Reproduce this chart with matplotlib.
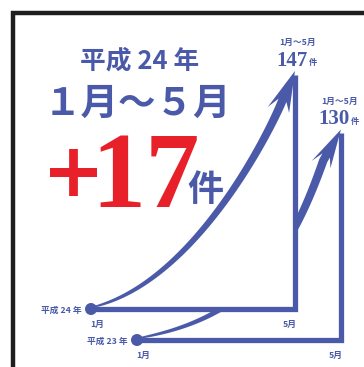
import numpy as np
import matplotlib.pyplot as plt
from matplotlib.patches import Polygon, Circle

plt.rcParams['font.family'] = ['Noto Sans CJK JP', 'DejaVu Sans']

# ----------- DATA -----------
years = ['平成 24 年', '平成 23 年']
totals = [147, 130]
months = ['1月', '5月']
period = '1月～5月'
period_big = '１月～５月'
unit = '件'

BLUE = '#4a5aa8'
RED = '#e8202a'

# layout of the two "step" graphics (pixel space)
base_y = [309, 340]
x_start = [91, 137]
x_end = [295, 341]
scale = 1.62      # px per case
head_dir = [(17, -40), (21, -37)]
ctrl = [[(185, 285), (257, 158)], [(250, 318), (290, 255)]]


def bezier(p0, p1, p2, p3, n=120):
    t = np.linspace(0, 1, n)[:, None]
    pts = ((1 - t) ** 3) * p0 + 3 * ((1 - t) ** 2) * t * p1 + 3 * (1 - t) * t ** 2 * p2 + t ** 3 * p3
    return pts, t[:, 0]


def arrow_shape(p0, p1, p2, tip, d, head_len, head_w, w0, w1):
    d = np.array(d, float)
    d = d / np.hypot(*d)
    tip = np.array(tip, float)
    p3 = tip - head_len * d
    pts, t = bezier(np.array(p0, float), np.array(p1, float), np.array(p2, float), p3)
    tang = np.gradient(pts, axis=0)
    tang /= np.hypot(tang[:, 0], tang[:, 1])[:, None]
    nrm = np.column_stack([-tang[:, 1], tang[:, 0]])
    w = w0 + (w1 - w0) * t ** 0.5
    left = pts + nrm * w[:, None] / 2
    right = pts - nrm * w[:, None] / 2
    n = np.array([-d[1], d[0]])
    head = [p3 + n * head_w - d * 3, tip, p3 - n * head_w - d * 6,
            p3 - n * w1 / 2 + d * 6, p3 + n * w1 / 2 + d * 6]
    poly = np.vstack([left, [head[4], head[0], head[1], head[2], head[3]], right[::-1]])
    return poly, pts


fig = plt.figure(figsize=(3.64, 3.67), dpi=100)
ax = fig.add_axes([0, 0, 1, 1])
ax.set_xlim(0, 364)
ax.set_ylim(367, 0)
ax.axis('off')

# frame
ax.plot([13, 13, 370], [370, 12.5, 12.5], color='#1e1e1e', lw=3.2, solid_joinstyle='miter', zorder=1)

tops = [by - tot * scale for by, tot in zip(base_y, totals)]

# draw older year first so the newer one covers it
for i in [1, 0]:
    z = 10 if i == 1 else 20
    p0 = (x_start[i] + 2, base_y[i] - 2)
    tip = (x_end[i], tops[i])
    poly, pts = arrow_shape(p0, ctrl[i][0], ctrl[i][1], tip, head_dir[i],
                            38 if i == 0 else 36, 11 if i == 0 else 10, 1.0, 8.5)
    if i == 0:
        # white area under the newer curve hides the older one
        fill = np.vstack([pts, [(x_end[i], tops[i] + 30), (x_end[i], base_y[i]), (x_start[i], base_y[i])]])
        ax.add_patch(Polygon(fill, closed=True, fc='white', ec='none', zorder=z - 1))
    ax.add_patch(Polygon(poly, closed=True, fc=BLUE, ec='none', zorder=z))
    ax.plot([x_start[i], x_end[i], x_end[i]], [base_y[i], base_y[i], tops[i] + 4],
            color=BLUE, lw=3.8, solid_joinstyle='miter', solid_capstyle='butt', zorder=z + 1)
    ax.add_patch(Circle((x_start[i], base_y[i]), 6, fc=BLUE, ec='none', zorder=z + 2))
    ax.text(x_start[i] - 9, base_y[i] + 1, years[i], ha='right', va='center',
            fontsize=6.3, fontweight='bold', color=BLUE, zorder=z + 2)
    ax.text(x_start[i] + 6, base_y[i] + 15, months[0], ha='center', va='center',
            fontsize=6.3, fontweight='bold', color=BLUE, zorder=z + 2)
    ax.text(x_end[i] - 5, base_y[i] + 15, months[1], ha='center', va='center',
            fontsize=6.3, fontweight='bold', color=BLUE, zorder=z + 2)
    # totals above the tips
    tx = x_end[i] - 3 if i == 0 else x_end[i] - 7
    ax.text(tx + 6, tops[i] - 28, period, ha='center', va='center',
            fontsize=6.3, fontweight='bold', color=BLUE)
    ax.text(tx, tops[i] - 10, str(totals[i]), ha='center', va='center',
            fontsize=15, fontweight='bold', color=BLUE, family='Liberation Serif')
    ax.text(tx + 21, tops[i] - 8, unit, ha='center', va='center',
            fontsize=6, fontweight='bold', color=BLUE)

# headline
ax.text(140, 61, years[0], ha='center', va='center', fontsize=18.5,
        fontweight='bold', color=BLUE)
ax.text(137, 103, period_big, ha='center', va='center', fontsize=27,
        fontweight='bold', color=BLUE)
diff = totals[0] - totals[1]
ax.text(74, 176, '+', ha='center', va='center', fontsize=54,
        fontweight='bold', color=RED, family='DejaVu Sans')
ax.text(146, 181, str(diff), ha='center', va='center', fontsize=78,
        fontweight='bold', color=RED, family='Liberation Serif')
ax.text(205, 191, unit, ha='center', va='center', fontsize=26,
        fontweight='bold', color=BLUE)

fig.savefig('out.png', dpi=100)
